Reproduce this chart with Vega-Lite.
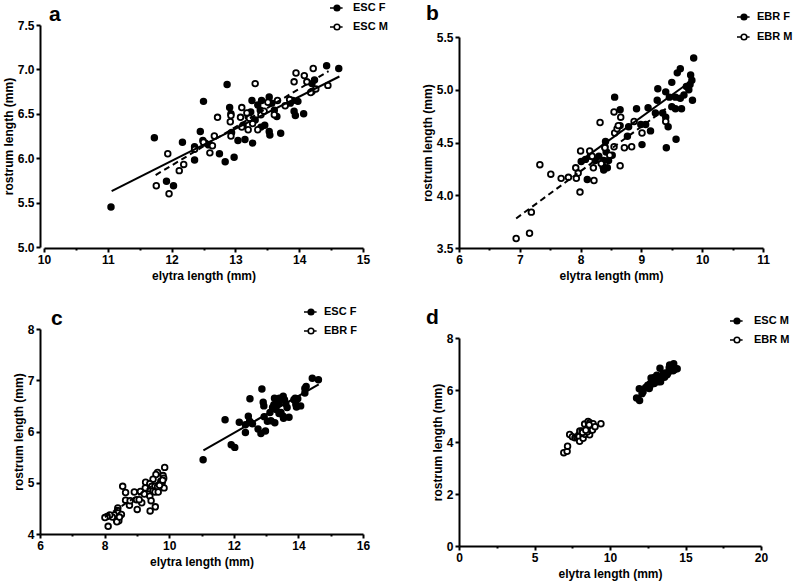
{
  "$schema": "https://vega.github.io/schema/vega-lite/v6.json",
  "padding": {"left": 2, "top": 0, "right": 5, "bottom": 5},
  "datasets": {
    "pts": [
      {"grp": "ESC F", "x": 11.05, "y": 5.45}, {"grp": "ESC F", "x": 11.73, "y": 6.23}, {"grp": "ESC F", "x": 11.92, "y": 5.74},
      {"grp": "ESC F", "x": 12.03, "y": 5.69}, {"grp": "ESC F", "x": 12.17, "y": 6.18}, {"grp": "ESC F", "x": 12.36, "y": 5.98},
      {"grp": "ESC F", "x": 12.36, "y": 6.13}, {"grp": "ESC F", "x": 12.45, "y": 6.30}, {"grp": "ESC F", "x": 12.49, "y": 6.20},
      {"grp": "ESC F", "x": 12.53, "y": 6.17}, {"grp": "ESC F", "x": 12.50, "y": 6.64}, {"grp": "ESC F", "x": 12.75, "y": 6.05},
      {"grp": "ESC F", "x": 12.84, "y": 5.96}, {"grp": "ESC F", "x": 12.98, "y": 6.01}, {"grp": "ESC F", "x": 12.87, "y": 6.83},
      {"grp": "ESC F", "x": 12.91, "y": 6.57}, {"grp": "ESC F", "x": 12.93, "y": 6.50}, {"grp": "ESC F", "x": 12.94, "y": 6.29},
      {"grp": "ESC F", "x": 13.04, "y": 6.20}, {"grp": "ESC F", "x": 13.15, "y": 6.21}, {"grp": "ESC F", "x": 13.27, "y": 6.17},
      {"grp": "ESC F", "x": 13.24, "y": 6.52}, {"grp": "ESC F", "x": 13.26, "y": 6.65}, {"grp": "ESC F", "x": 13.31, "y": 6.43},
      {"grp": "ESC F", "x": 13.39, "y": 6.54}, {"grp": "ESC F", "x": 13.41, "y": 6.65}, {"grp": "ESC F", "x": 13.46, "y": 6.37},
      {"grp": "ESC F", "x": 13.40, "y": 6.35}, {"grp": "ESC F", "x": 13.53, "y": 6.69}, {"grp": "ESC F", "x": 13.57, "y": 6.62},
      {"grp": "ESC F", "x": 13.53, "y": 6.30}, {"grp": "ESC F", "x": 13.54, "y": 6.26}, {"grp": "ESC F", "x": 13.61, "y": 6.54},
      {"grp": "ESC F", "x": 13.65, "y": 6.47}, {"grp": "ESC F", "x": 13.71, "y": 6.28}, {"grp": "ESC F", "x": 13.86, "y": 6.62},
      {"grp": "ESC F", "x": 13.90, "y": 6.65}, {"grp": "ESC F", "x": 13.98, "y": 6.64}, {"grp": "ESC F", "x": 13.92, "y": 6.53},
      {"grp": "ESC F", "x": 13.94, "y": 6.48}, {"grp": "ESC F", "x": 14.07, "y": 6.50}, {"grp": "ESC F", "x": 14.20, "y": 6.75},
      {"grp": "ESC F", "x": 14.20, "y": 6.84}, {"grp": "ESC F", "x": 14.24, "y": 6.88}, {"grp": "ESC F", "x": 14.43, "y": 7.04},
      {"grp": "ESC F", "x": 14.62, "y": 7.01}, {"grp": "ESC F", "x": 13.12, "y": 6.37}, {"grp": "ESC F", "x": 13.20, "y": 6.47},
      {"grp": "ESC F", "x": 13.35, "y": 6.60}, {"grp": "ESC F", "x": 12.58, "y": 6.15},
      {"grp": "ESC M", "x": 11.76, "y": 5.69}, {"grp": "ESC M", "x": 11.96, "y": 5.60}, {"grp": "ESC M", "x": 11.94, "y": 6.05},
      {"grp": "ESC M", "x": 12.12, "y": 5.86}, {"grp": "ESC M", "x": 12.19, "y": 5.93}, {"grp": "ESC M", "x": 12.36, "y": 6.10},
      {"grp": "ESC M", "x": 12.50, "y": 6.18}, {"grp": "ESC M", "x": 12.60, "y": 6.06}, {"grp": "ESC M", "x": 12.64, "y": 6.14},
      {"grp": "ESC M", "x": 12.67, "y": 6.25}, {"grp": "ESC M", "x": 12.72, "y": 6.46}, {"grp": "ESC M", "x": 12.92, "y": 6.41},
      {"grp": "ESC M", "x": 12.93, "y": 6.48}, {"grp": "ESC M", "x": 12.93, "y": 6.25}, {"grp": "ESC M", "x": 13.10, "y": 6.57},
      {"grp": "ESC M", "x": 13.08, "y": 6.46}, {"grp": "ESC M", "x": 13.10, "y": 6.35}, {"grp": "ESC M", "x": 13.20, "y": 6.32},
      {"grp": "ESC M", "x": 13.22, "y": 6.45}, {"grp": "ESC M", "x": 13.27, "y": 6.39}, {"grp": "ESC M", "x": 13.31, "y": 6.84},
      {"grp": "ESC M", "x": 13.35, "y": 6.32}, {"grp": "ESC M", "x": 13.40, "y": 6.49}, {"grp": "ESC M", "x": 13.45, "y": 6.53},
      {"grp": "ESC M", "x": 13.51, "y": 6.63}, {"grp": "ESC M", "x": 13.61, "y": 6.49}, {"grp": "ESC M", "x": 13.66, "y": 6.65},
      {"grp": "ESC M", "x": 13.78, "y": 6.59}, {"grp": "ESC M", "x": 13.85, "y": 6.66}, {"grp": "ESC M", "x": 13.92, "y": 6.86},
      {"grp": "ESC M", "x": 13.95, "y": 6.96}, {"grp": "ESC M", "x": 14.08, "y": 6.93}, {"grp": "ESC M", "x": 14.12, "y": 6.86},
      {"grp": "ESC M", "x": 14.22, "y": 7.01}, {"grp": "ESC M", "x": 14.26, "y": 6.78}, {"grp": "ESC M", "x": 14.45, "y": 6.82},
      {"grp": "ESC M", "x": 14.18, "y": 6.74}, {"grp": "ESC M", "x": 13.18, "y": 6.51},
      {"grp": "EBR F", "x": 9.86, "y": 5.30}, {"grp": "EBR F", "x": 9.64, "y": 5.20}, {"grp": "EBR F", "x": 9.59, "y": 5.16},
      {"grp": "EBR F", "x": 9.81, "y": 5.14}, {"grp": "EBR F", "x": 9.83, "y": 5.09}, {"grp": "EBR F", "x": 9.78, "y": 5.00},
      {"grp": "EBR F", "x": 9.74, "y": 5.03}, {"grp": "EBR F", "x": 9.84, "y": 4.90}, {"grp": "EBR F", "x": 9.27, "y": 5.01},
      {"grp": "EBR F", "x": 9.50, "y": 5.07}, {"grp": "EBR F", "x": 9.40, "y": 4.98}, {"grp": "EBR F", "x": 9.46, "y": 4.93},
      {"grp": "EBR F", "x": 9.56, "y": 4.93}, {"grp": "EBR F", "x": 9.64, "y": 4.92}, {"grp": "EBR F", "x": 9.26, "y": 4.90},
      {"grp": "EBR F", "x": 9.11, "y": 4.83}, {"grp": "EBR F", "x": 8.92, "y": 4.82}, {"grp": "EBR F", "x": 9.50, "y": 4.84},
      {"grp": "EBR F", "x": 9.56, "y": 4.82}, {"grp": "EBR F", "x": 9.66, "y": 4.82}, {"grp": "EBR F", "x": 9.35, "y": 4.78},
      {"grp": "EBR F", "x": 9.23, "y": 4.78}, {"grp": "EBR F", "x": 9.40, "y": 4.74}, {"grp": "EBR F", "x": 9.44, "y": 4.65},
      {"grp": "EBR F", "x": 9.57, "y": 4.53}, {"grp": "EBR F", "x": 9.41, "y": 4.45}, {"grp": "EBR F", "x": 9.15, "y": 4.61},
      {"grp": "EBR F", "x": 8.99, "y": 4.67}, {"grp": "EBR F", "x": 9.07, "y": 4.67}, {"grp": "EBR F", "x": 9.01, "y": 4.48},
      {"grp": "EBR F", "x": 8.56, "y": 4.93}, {"grp": "EBR F", "x": 8.65, "y": 4.81}, {"grp": "EBR F", "x": 8.65, "y": 4.66},
      {"grp": "EBR F", "x": 8.41, "y": 4.51}, {"grp": "EBR F", "x": 8.40, "y": 4.46}, {"grp": "EBR F", "x": 8.42, "y": 4.41},
      {"grp": "EBR F", "x": 8.38, "y": 4.33}, {"grp": "EBR F", "x": 8.37, "y": 4.27}, {"grp": "EBR F", "x": 8.44, "y": 4.26},
      {"grp": "EBR F", "x": 8.38, "y": 4.24}, {"grp": "EBR F", "x": 8.30, "y": 4.37}, {"grp": "EBR F", "x": 8.24, "y": 4.33},
      {"grp": "EBR F", "x": 8.16, "y": 4.37}, {"grp": "EBR F", "x": 8.08, "y": 4.34}, {"grp": "EBR F", "x": 8.01, "y": 4.32},
      {"grp": "EBR F", "x": 8.11, "y": 4.15}, {"grp": "EBR F", "x": 8.52, "y": 4.38}, {"grp": "EBR F", "x": 8.77, "y": 4.56},
      {"grp": "EBR F", "x": 8.46, "y": 4.33}, {"grp": "EBR F", "x": 8.79, "y": 4.65}, {"grp": "EBR F", "x": 9.80, "y": 5.05},
      {"grp": "EBR F", "x": 9.70, "y": 4.95},
      {"grp": "EBR M", "x": 6.94, "y": 3.59}, {"grp": "EBR M", "x": 7.16, "y": 3.64}, {"grp": "EBR M", "x": 7.19, "y": 3.84},
      {"grp": "EBR M", "x": 7.33, "y": 4.29}, {"grp": "EBR M", "x": 7.51, "y": 4.20}, {"grp": "EBR M", "x": 7.68, "y": 4.16},
      {"grp": "EBR M", "x": 7.80, "y": 4.17}, {"grp": "EBR M", "x": 7.92, "y": 4.26}, {"grp": "EBR M", "x": 7.93, "y": 4.16},
      {"grp": "EBR M", "x": 7.96, "y": 4.21}, {"grp": "EBR M", "x": 7.99, "y": 4.03}, {"grp": "EBR M", "x": 8.00, "y": 4.42},
      {"grp": "EBR M", "x": 8.15, "y": 4.42}, {"grp": "EBR M", "x": 8.21, "y": 4.26}, {"grp": "EBR M", "x": 8.22, "y": 4.14},
      {"grp": "EBR M", "x": 8.32, "y": 4.69}, {"grp": "EBR M", "x": 8.34, "y": 4.30}, {"grp": "EBR M", "x": 8.55, "y": 4.79},
      {"grp": "EBR M", "x": 8.56, "y": 4.59}, {"grp": "EBR M", "x": 8.55, "y": 4.46}, {"grp": "EBR M", "x": 8.65, "y": 4.28},
      {"grp": "EBR M", "x": 8.66, "y": 4.74}, {"grp": "EBR M", "x": 8.72, "y": 4.45}, {"grp": "EBR M", "x": 8.84, "y": 4.46},
      {"grp": "EBR M", "x": 8.88, "y": 4.70}, {"grp": "EBR M", "x": 9.01, "y": 4.59}, {"grp": "EBR M", "x": 9.40, "y": 4.70},
      {"grp": "EBR M", "x": 8.60, "y": 4.63}, {"grp": "EBR M", "x": 8.48, "y": 4.38}, {"grp": "EBR M", "x": 8.19, "y": 4.37},
      {"grp": "EBR M", "x": 8.40, "y": 4.45}, {"grp": "EBR M", "x": 8.62, "y": 4.66}
    ],
    "fits": [
      {"grp": "ESC F", "x": 11.06, "y": 5.63}, {"grp": "ESC F", "x": 14.63, "y": 6.92},
      {"grp": "ESC M", "x": 11.75, "y": 5.81}, {"grp": "ESC M", "x": 14.46, "y": 6.98},
      {"grp": "EBR F", "x": 8.01, "y": 4.33}, {"grp": "EBR F", "x": 9.86, "y": 5.1},
      {"grp": "EBR M", "x": 6.94, "y": 3.78}, {"grp": "EBR M", "x": 9.4, "y": 4.82}
    ]
  },
  "concat": [
    {
      "width": 323,
      "height": 223,
      "title": {"text": "a", "dx": 9, "dy": 25, "offset": 0},
      "layer": [
        {
          "data": {"name": "pts"},
          "transform": [{"filter": {"field": "grp", "oneOf": ["ESC F", "ESC M"]}}],
          "mark": {"type": "point", "filled": true, "size": 32, "stroke": "black", "strokeWidth": 1.8, "opacity": 1},
          "encoding": {
            "x": {"field": "x", "type": "quantitative", "scale": {"domain": [10, 15], "range": [4, 323], "nice": false, "zero": false},
              "axis": {"orient": "bottom", "values": [10, 11, 12, 13, 14, 15], "title": "elytra length (mm)"}},
            "y": {"field": "y", "type": "quantitative", "scale": {"domain": [5, 7.5], "range": [222, 0], "nice": false, "zero": false},
              "axis": {"orient": "left", "values": [5, 5.5, 6, 6.5, 7, 7.5], "format": ".1f", "title": "rostrum length  (mm)"}},
            "fill": {"field": "grp", "type": "nominal", "scale": {"domain": ["ESC F", "ESC M"], "range": ["black", "white"]},
              "legend": {"orient": "none", "legendX": 289, "legendY": -25, "labelOffset": 8, "rowPadding": 5}}
          }
        },
        {
          "data": {"name": "fits"},
          "transform": [{"filter": {"field": "grp", "equal": "ESC F"}}],
          "mark": {"type": "line", "color": "black", "strokeWidth": 2},
          "encoding": {
            "x": {"field": "x", "type": "quantitative", "scale": {"domain": [10, 15], "range": [4, 323], "nice": false, "zero": false}, "axis": null},
            "y": {"field": "y", "type": "quantitative", "scale": {"domain": [5, 7.5], "range": [222, 0], "nice": false, "zero": false}, "axis": null}
          }
        },
        {
          "data": {"name": "fits"},
          "transform": [{"filter": {"field": "grp", "equal": "ESC M"}}],
          "mark": {"type": "line", "color": "black", "strokeWidth": 2, "strokeDash": [6, 4]},
          "encoding": {
            "x": {"field": "x", "type": "quantitative", "scale": {"domain": [10, 15], "range": [4, 323], "nice": false, "zero": false}, "axis": null},
            "y": {"field": "y", "type": "quantitative", "scale": {"domain": [5, 7.5], "range": [222, 0], "nice": false, "zero": false}, "axis": null}
          }
        },
        {
          "data": {"name": "pts"},
          "transform": [{"filter": {"field": "grp", "oneOf": ["ESC F", "ESC M"]}}],
          "mark": {"type": "point", "opacity": 0},
          "encoding": {
            "x": {"field": "x", "type": "quantitative", "scale": {"domain": [10, 15], "range": [4, 323], "nice": false, "zero": false},
              "axis": {"orient": "bottom", "values": [10.5, 11.5, 12.5, 13.5, 14.5], "labels": false, "domain": false, "tickSize": 2, "title": null}}
          }
        }
      ],
      "resolve": {"axis": {"x": "independent", "y": "independent"}}
    },
    {
      "width": 304,
      "height": 223,
      "title": {"text": "b", "dx": -33, "dy": 15.4, "offset": 0},
      "layer": [
        {
          "data": {"name": "pts"},
          "transform": [{"filter": {"field": "grp", "oneOf": ["EBR F", "EBR M"]}}],
          "mark": {"type": "point", "filled": true, "size": 32, "stroke": "black", "strokeWidth": 1.8, "opacity": 1},
          "encoding": {
            "x": {"field": "x", "type": "quantitative", "scale": {"domain": [6, 11], "range": [0, 304], "nice": false, "zero": false},
              "axis": {"orient": "bottom", "values": [6, 7, 8, 9, 10, 11], "title": "elytra length (mm)"}},
            "y": {"field": "y", "type": "quantitative", "scale": {"domain": [3.5, 5.5], "range": [223, 12], "nice": false, "zero": false},
              "axis": {"orient": "left", "values": [3.5, 4, 4.5, 5, 5.5], "format": ".1f", "title": "rostrum length  (mm)"}},
            "fill": {"field": "grp", "type": "nominal", "scale": {"domain": ["EBR F", "EBR M"], "range": ["black", "white"]},
              "legend": {"orient": "none", "legendX": 277, "legendY": -16, "labelOffset": 5, "rowPadding": 6}}
          }
        },
        {
          "data": {"name": "fits"},
          "transform": [{"filter": {"field": "grp", "equal": "EBR F"}}],
          "mark": {"type": "line", "color": "black", "strokeWidth": 2},
          "encoding": {
            "x": {"field": "x", "type": "quantitative", "scale": {"domain": [6, 11], "range": [0, 304], "nice": false, "zero": false}, "axis": null},
            "y": {"field": "y", "type": "quantitative", "scale": {"domain": [3.5, 5.5], "range": [223, 12], "nice": false, "zero": false}, "axis": null}
          }
        },
        {
          "data": {"name": "fits"},
          "transform": [{"filter": {"field": "grp", "equal": "EBR M"}}],
          "mark": {"type": "line", "color": "black", "strokeWidth": 2, "strokeDash": [6, 4]},
          "encoding": {
            "x": {"field": "x", "type": "quantitative", "scale": {"domain": [6, 11], "range": [0, 304], "nice": false, "zero": false}, "axis": null},
            "y": {"field": "y", "type": "quantitative", "scale": {"domain": [3.5, 5.5], "range": [223, 12], "nice": false, "zero": false}, "axis": null}
          }
        },
        {
          "data": {"name": "pts"},
          "transform": [{"filter": {"field": "grp", "oneOf": ["EBR F", "EBR M"]}}],
          "mark": {"type": "point", "opacity": 0},
          "encoding": {
            "x": {"field": "x", "type": "quantitative", "scale": {"domain": [6, 11], "range": [0, 304], "nice": false, "zero": false},
              "axis": {"orient": "bottom", "values": [6.5, 7.5, 8.5, 9.5, 10.5], "labels": false, "domain": false, "tickSize": 2, "title": null}}
          }
        }
      ],
      "resolve": {"axis": {"x": "independent", "y": "independent"}}
    },
    {
      "width": 323,
      "height": 205,
      "title": {"text": "c", "dx": 11, "dy": 25.3, "offset": 0},
      "layer": [
        {
          "data": {"name": "pts"},
          "transform": [{"filter": {"field": "grp", "oneOf": ["ESC F", "EBR F"]}}],
          "mark": {"type": "point", "filled": true, "size": 32, "stroke": "black", "strokeWidth": 1.8, "opacity": 1},
          "encoding": {
            "x": {"field": "x", "type": "quantitative", "scale": {"domain": [6, 16], "range": [0, 323], "nice": false, "zero": false},
              "axis": {"orient": "bottom", "values": [6, 8, 10, 12, 14, 16], "title": "elytra length (mm)"}},
            "y": {"field": "y", "type": "quantitative", "scale": {"domain": [4, 8], "range": [205, 0], "nice": false, "zero": false},
              "axis": {"orient": "left", "values": [4, 5, 6, 7, 8], "title": "rostrum length  (mm)"}},
            "fill": {"field": "grp", "type": "nominal", "scale": {"domain": ["ESC F", "EBR F"], "range": ["black", "white"]},
              "legend": {"orient": "none", "legendX": 263, "legendY": -25, "labelOffset": 5, "rowPadding": 5}}
          }
        },
        {
          "data": {"name": "fits"},
          "transform": [{"filter": {"field": "grp", "equal": "ESC F"}}],
          "mark": {"type": "line", "color": "black", "strokeWidth": 2},
          "encoding": {
            "x": {"field": "x", "type": "quantitative", "scale": {"domain": [6, 16], "range": [0, 323], "nice": false, "zero": false}, "axis": null},
            "y": {"field": "y", "type": "quantitative", "scale": {"domain": [4, 8], "range": [205, 0], "nice": false, "zero": false}, "axis": null}
          }
        },
        {
          "data": {"name": "fits"},
          "transform": [{"filter": {"field": "grp", "equal": "EBR F"}}],
          "mark": {"type": "line", "color": "black", "strokeWidth": 2, "strokeDash": [6, 4]},
          "encoding": {
            "x": {"field": "x", "type": "quantitative", "scale": {"domain": [6, 16], "range": [0, 323], "nice": false, "zero": false}, "axis": null},
            "y": {"field": "y", "type": "quantitative", "scale": {"domain": [4, 8], "range": [205, 0], "nice": false, "zero": false}, "axis": null}
          }
        },
        {
          "data": {"name": "pts"},
          "transform": [{"filter": {"field": "grp", "oneOf": ["ESC F", "EBR F"]}}],
          "mark": {"type": "point", "opacity": 0},
          "encoding": {
            "x": {"field": "x", "type": "quantitative", "scale": {"domain": [6, 16], "range": [0, 323], "nice": false, "zero": false},
              "axis": {"orient": "bottom", "values": [7, 9, 11, 13, 15], "labels": false, "domain": false, "tickSize": 2, "title": null}}
          }
        }
      ],
      "resolve": {"axis": {"x": "independent", "y": "independent"}}
    },
    {
      "width": 302,
      "height": 217,
      "title": {"text": "d", "dx": -33, "dy": 15.3, "offset": 0},
      "layer": [
        {
          "data": {"name": "pts"},
          "transform": [{"filter": {"field": "grp", "oneOf": ["ESC M", "EBR M"]}}],
          "mark": {"type": "point", "filled": true, "size": 32, "stroke": "black", "strokeWidth": 1.8, "opacity": 1},
          "encoding": {
            "x": {"field": "x", "type": "quantitative", "scale": {"domain": [0, 20], "range": [0, 302], "nice": false, "zero": false},
              "axis": {"orient": "bottom", "values": [0, 5, 10, 15, 20], "title": "elytra length (mm)"}},
            "y": {"field": "y", "type": "quantitative", "scale": {"domain": [0, 8], "range": [217, 9], "nice": false, "zero": false},
              "axis": {"orient": "left", "values": [0, 2, 4, 6, 8], "title": "rostrum length  (mm)"}},
            "fill": {"field": "grp", "type": "nominal", "scale": {"domain": ["ESC M", "EBR M"], "range": ["black", "white"]},
              "legend": {"orient": "none", "legendX": 270, "legendY": -16, "labelOffset": 9, "rowPadding": 5}}
          }
        },
        {
          "data": {"name": "pts"},
          "transform": [{"filter": {"field": "grp", "oneOf": ["ESC M", "EBR M"]}}],
          "mark": {"type": "point", "opacity": 0},
          "encoding": {
            "x": {"field": "x", "type": "quantitative", "scale": {"domain": [0, 20], "range": [0, 302], "nice": false, "zero": false},
              "axis": {"orient": "bottom", "values": [2.5, 7.5, 12.5, 17.5], "labels": false, "domain": false, "tickSize": 2, "title": null}}
          }
        }
      ],
      "resolve": {"axis": {"x": "independent", "y": "independent"}}
    }
  ],
  "columns": 2,
  "spacing": {"row": 81, "column": 96},
  "bounds": "flush",
  "resolve": {"scale": {"fill": "independent"}},
  "config": {
    "font": "Liberation Sans",
    "background": "white",
    "view": {"stroke": null},
    "axis": {
      "grid": false,
      "domainColor": "black",
      "domainWidth": 2,
      "tickColor": "black",
      "tickWidth": 2,
      "tickSize": 4,
      "labelFont": "Liberation Sans",
      "labelFontSize": 12,
      "labelFontWeight": 700,
      "labelColor": "black",
      "labelPadding": 2,
      "labelFlush": false,
      "labelOverlap": false,
      "titleFont": "Liberation Sans",
      "titleFontSize": 12,
      "titleFontWeight": 700,
      "titleColor": "black",
      "minExtent": 0
    },
    "axisX": {"titlePadding": 5, "labelFontWeight": 700},
    "axisY": {"titlePadding": 2, "labelFontWeight": 700},
    "legend": {
      "title": null,
      "padding": 0,
      "symbolSize": 196,
      "symbolOffset": 0,
      "symbolType": "M-1,0L-0.4,0M0.4,0L0.8,0M-0.4,0A0.4,0.4,0,1,0,0.4,0A0.4,0.4,0,1,0,-0.4,0Z",
      "symbolStrokeColor": "black",
      "symbolStrokeWidth": 1.6,
      "labelFont": "Liberation Sans",
      "labelFontSize": 11,
      "labelFontWeight": 700,
      "labelColor": "black"
    },
    "title": {"font": "Liberation Sans", "fontSize": 21, "fontWeight": "bold", "color": "black", "anchor": "start", "frame": "group", "baseline": "alphabetic"}
  }
}
